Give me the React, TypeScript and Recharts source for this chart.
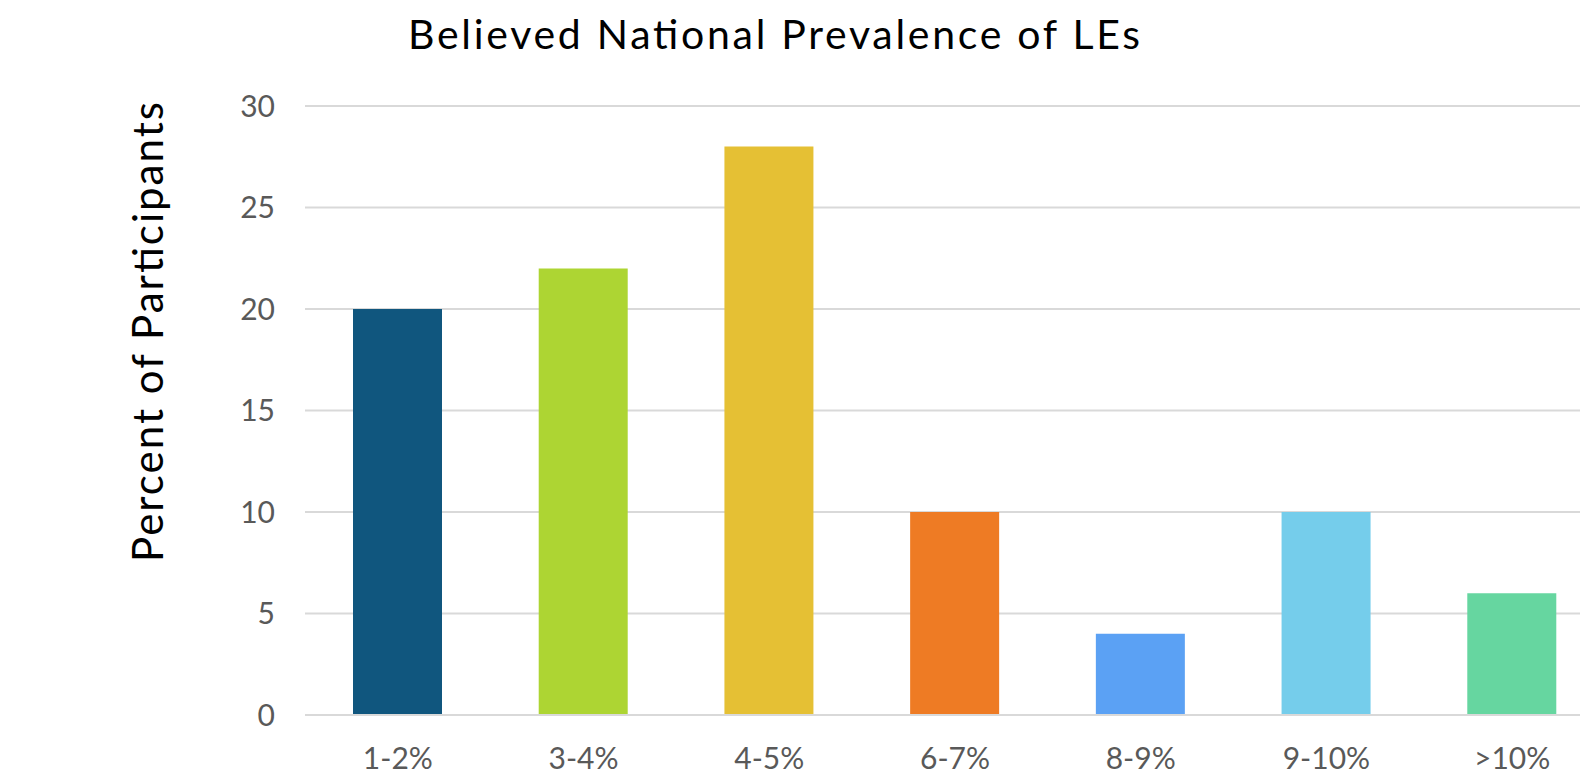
import React from 'react';
import { BarChart, Bar, XAxis, YAxis, CartesianGrid, Cell } from 'recharts';

const categories = ['1-2%', '3-4%', '4-5%', '6-7%', '8-9%', '9-10%', '>10%'];
const percents = [20, 22, 28, 10, 4, 10, 6];
const barColors = ['#10567E', '#ADD533', '#E5C034', '#EE7B24', '#5BA1F4', '#75CDEB', '#66D6A0'];
const yTicks = [0, 5, 10, 15, 20, 25, 30];

const FONT = 'Lato, "Open Sans", sans-serif';

const data = categories.map((name, i) => ({ name, value: percents[i] }));

const App: React.FC = () => {
  return (
    <div
      style={{
        position: 'fixed',
        left: 0,
        top: 0,
        width: 1580,
        height: 782,
        overflow: 'hidden',
        background: '#fff',
        fontFamily: FONT,
      }}
    >
      <BarChart
        width={1610}
        height={782}
        data={data}
        margin={{ top: 106, right: 5, bottom: 7, left: 205 }}
      >
        <CartesianGrid vertical={false} stroke="#d9d9d9" strokeWidth={2} />
        <XAxis
          dataKey="name"
          height={60}
          tickLine={false}
          tickSize={0}
          tickMargin={33}
          axisLine={{ stroke: '#d9d9d9', strokeWidth: 2 }}
          tick={{ fontSize: 30, fill: '#595959', fontFamily: FONT }}
          interval={0}
        />
        <YAxis
          width={100}
          domain={[0, 30]}
          ticks={yTicks}
          axisLine={false}
          tickLine={false}
          tickSize={0}
          tickMargin={30}
          tick={{ fontSize: 30, fill: '#595959', fontFamily: FONT }}
        />
        <Bar dataKey="value" barSize={89} isAnimationActive={false}>
          {data.map((d, i) => (
            <Cell key={d.name} fill={barColors[i]} />
          ))}
        </Bar>
      </BarChart>
      {/* title and rotated y-axis caption */}
      <svg
        width={1580}
        height={782}
        style={{ position: 'absolute', left: 0, top: 0, pointerEvents: 'none' }}
      >
        <text
          x={774}
          y={49}
          textAnchor="middle"
          fontSize={41}
          fill="#000"
          fontFamily={FONT}
          textLength={732}
          lengthAdjust="spacing"
        >
          Believed National Prevalence of LEs
        </text>
        <text
          x={163}
          y={332}
          transform="rotate(-90, 163, 332)"
          textAnchor="middle"
          fontSize={42}
          fill="#000"
          fontFamily={FONT}
          textLength={460}
          lengthAdjust="spacing"
        >
          Percent of Participants
        </text>
      </svg>
    </div>
  );
};

export default App;
